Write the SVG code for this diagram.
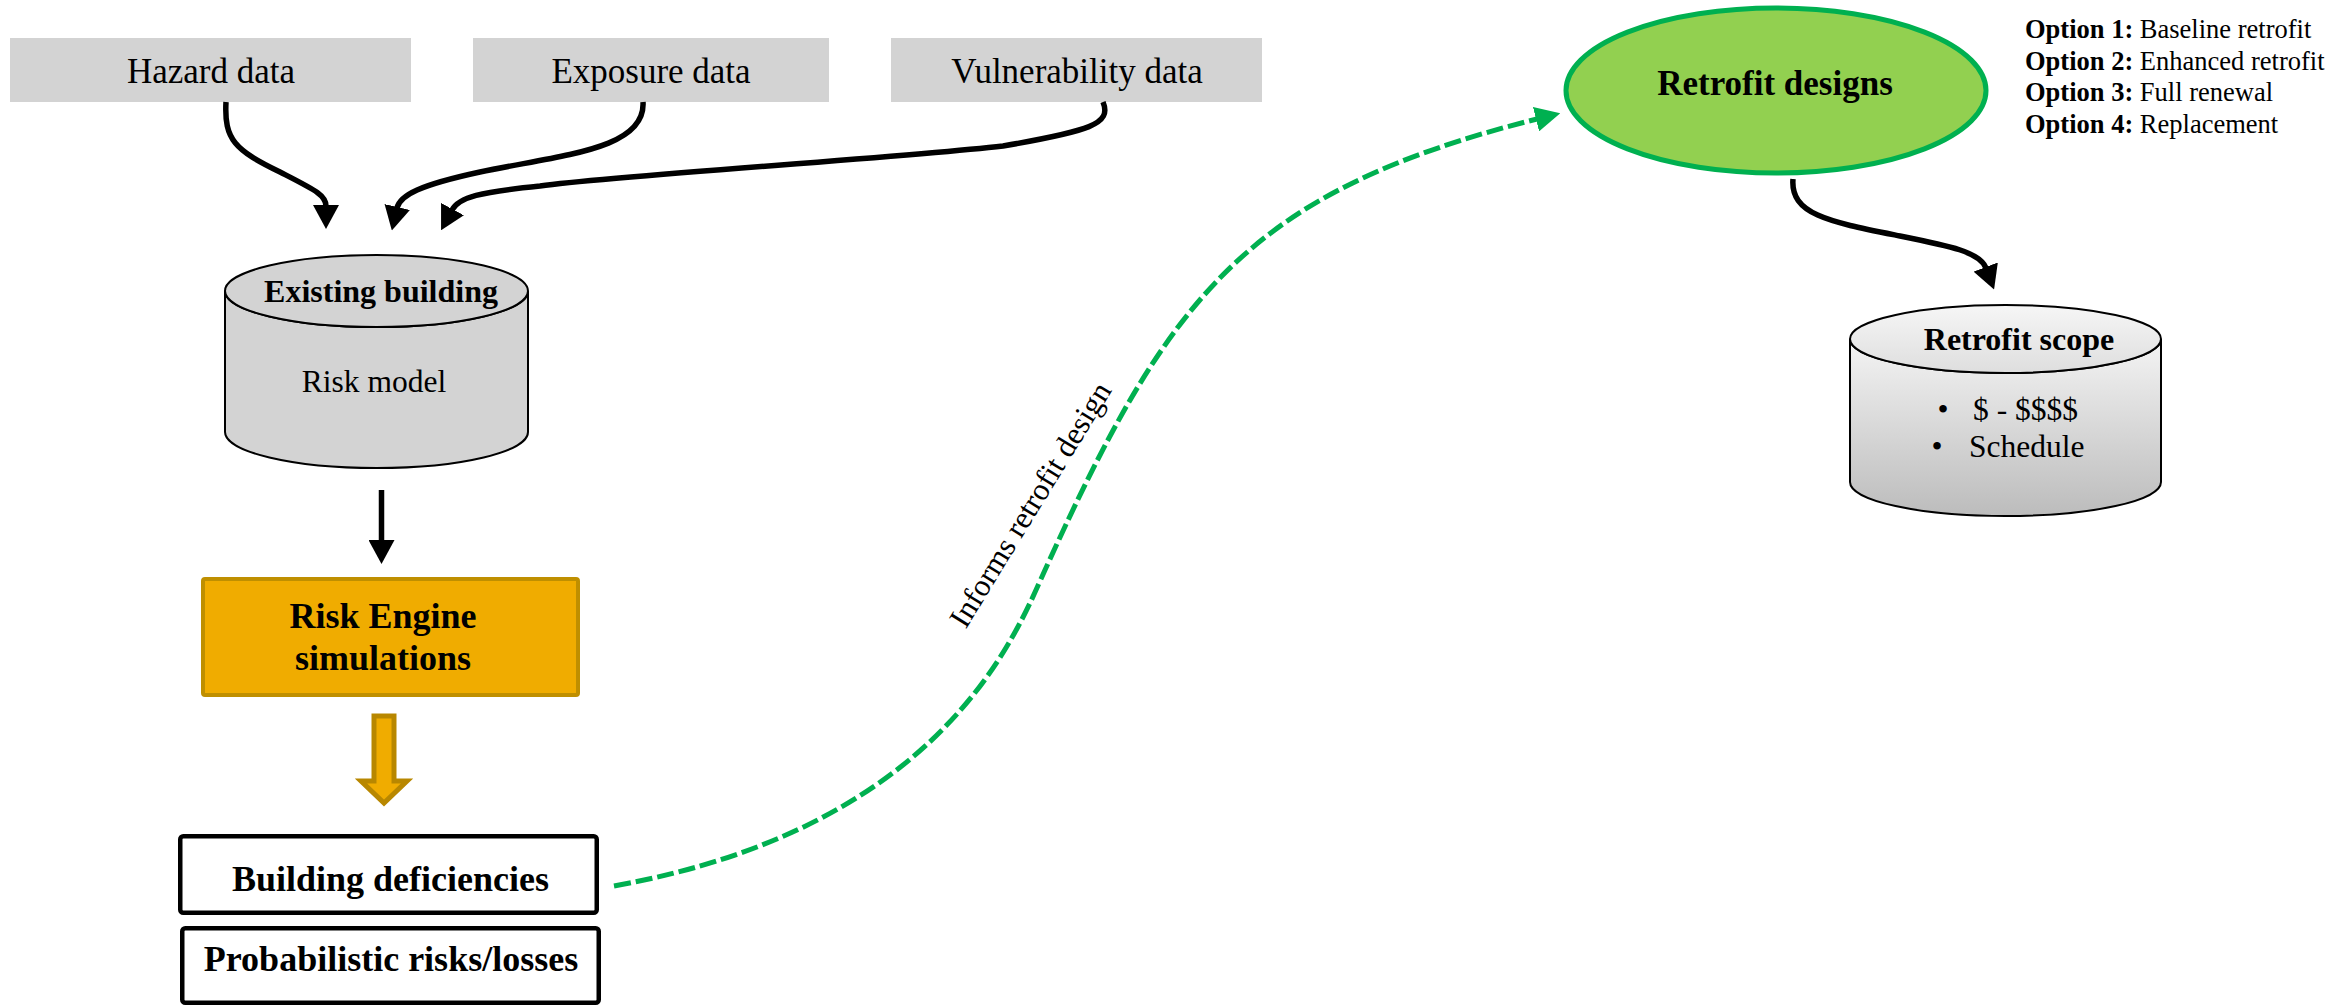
<svg xmlns="http://www.w3.org/2000/svg" width="2331" height="1005" viewBox="0 0 2331 1005">
  <style>
    .serif { font-family: "Liberation Serif", "Times New Roman", serif; fill: #000; }
    .b { font-weight: bold; }
    .src-box { fill: #d3d3d3; stroke: none; }
    .src-txt { font-size: 35px; }
    .flow { fill: none; stroke: #000; stroke-width: 5.5; stroke-linecap: butt; }
    .dash { fill: none; stroke: #00b050; stroke-width: 5; stroke-dasharray: 17 5; }
    .cyl { stroke: #000; stroke-width: 2; }
    .outbox { fill: #fff; stroke: #000; stroke-width: 4.5; }
  </style>
  <defs>
    <marker id="headBlack" viewBox="0 0 24 26" refX="1" refY="13" markerWidth="24" markerHeight="26" markerUnits="userSpaceOnUse" orient="auto">
      <path d="M0,0 L24,13 L0,26 Z" fill="#000"/>
    </marker>
    <marker id="headGreen" viewBox="0 0 25 25" refX="1" refY="12.5" markerWidth="25" markerHeight="25" markerUnits="userSpaceOnUse" orient="auto">
      <path d="M0,0 L25,12.5 L0,25 Z" fill="#00b050"/>
    </marker>
    <linearGradient id="scopeBody" x1="0" y1="0" x2="0" y2="1">
      <stop offset="0" stop-color="#f4f4f4"/>
      <stop offset="1" stop-color="#bcbcbc"/>
    </linearGradient>
    <linearGradient id="scopeTop" x1="0" y1="0" x2="0" y2="1">
      <stop offset="0" stop-color="#f6f6f6"/>
      <stop offset="1" stop-color="#dedede"/>
    </linearGradient>
  </defs>

  <!-- input data sources -->
  <g id="hazard">
    <rect class="src-box" x="10" y="38" width="401" height="64"/>
    <text class="serif src-txt" x="211" y="83" text-anchor="middle">Hazard data</text>
  </g>
  <g id="exposure">
    <rect class="src-box" x="473" y="38" width="356" height="64"/>
    <text class="serif src-txt" x="651" y="83" text-anchor="middle">Exposure data</text>
  </g>
  <g id="vulnerability">
    <rect class="src-box" x="891" y="38" width="371" height="64"/>
    <text class="serif src-txt" x="1077" y="83" text-anchor="middle">Vulnerability data</text>
  </g>

  <!-- existing building risk model (cylinder) -->
  <g id="existing-building">
    <path class="cyl" fill="#d3d3d3" d="M225,291 V432 A151.5,36 0 0 0 528,432 V291 A151.5,36 0 0 1 225,291 Z"/>
    <ellipse class="cyl" fill="#d3d3d3" cx="376.5" cy="291" rx="151.5" ry="36"/>
    <text class="serif b" x="381" y="302" font-size="32" text-anchor="middle">Existing building</text>
    <text class="serif" x="374" y="392" font-size="31.5" text-anchor="middle">Risk model</text>
  </g>

  <!-- risk engine -->
  <g id="risk-engine">
    <rect x="203" y="579" width="375" height="116" fill="#f0ac00" stroke="#bf8f00" stroke-width="4" rx="2"/>
    <text class="serif b" x="383" y="628" font-size="36" text-anchor="middle">Risk Engine</text>
    <text class="serif b" x="383" y="670" font-size="36" text-anchor="middle">simulations</text>
  </g>

  <!-- block arrow from engine to outputs -->
  <g id="engine-output-arrow">
    <polygon points="374,716 394,716 394,781 407,781 384,803 361,781 374,781" fill="#f0ac00" stroke="#b88700" stroke-width="5" stroke-linejoin="miter"/>
  </g>

  <!-- outputs -->
  <g id="building-deficiencies">
    <rect class="outbox" x="180.25" y="836.25" width="416.5" height="76.5" rx="3"/>
    <text class="serif b" x="390.5" y="891" font-size="36" text-anchor="middle">Building deficiencies</text>
  </g>
  <g id="probabilistic-risks">
    <rect class="outbox" x="182.25" y="928.25" width="416.5" height="74.5" rx="3"/>
    <text class="serif b" x="391" y="971" font-size="36" text-anchor="middle">Probabilistic risks/losses</text>
  </g>

  <!-- retrofit designs -->
  <g id="retrofit-designs">
    <ellipse cx="1776" cy="90.5" rx="210" ry="82.5" fill="#92d050" stroke="#00b050" stroke-width="5"/>
    <text class="serif b" x="1775" y="95" font-size="35" text-anchor="middle">Retrofit designs</text>
  </g>

  <!-- retrofit options list -->
  <g id="retrofit-options" class="serif" font-size="26.5">
    <text x="2025" y="38"><tspan class="b">Option 1:</tspan> Baseline retrofit</text>
    <text x="2025" y="69.5"><tspan class="b">Option 2:</tspan> Enhanced retrofit</text>
    <text x="2025" y="101"><tspan class="b">Option 3:</tspan> Full renewal</text>
    <text x="2025" y="132.5"><tspan class="b">Option 4:</tspan> Replacement</text>
  </g>

  <!-- retrofit scope (cylinder) -->
  <g id="retrofit-scope">
    <path class="cyl" fill="url(#scopeBody)" d="M1850,339 V482 A155.5,34 0 0 0 2161,482 V339 A155.5,34 0 0 1 1850,339 Z"/>
    <ellipse class="cyl" fill="url(#scopeTop)" cx="2005.5" cy="339" rx="155.5" ry="34"/>
    <text class="serif b" x="2019" y="350" font-size="32" text-anchor="middle">Retrofit scope</text>
    <text class="serif" x="1943" y="420" font-size="31.5" text-anchor="middle">•</text>
    <text class="serif" x="1973" y="420" font-size="31.5">$ - $$$$</text>
    <text class="serif" x="1937" y="457" font-size="31.5" text-anchor="middle">•</text>
    <text class="serif" x="1969" y="457" font-size="31.5">Schedule</text>
  </g>

  <!-- connectors -->
  <g id="connectors">
    <path class="flow" marker-end="url(#headBlack)" d="M226,102 C224,140 235,150 280,172 C315,190 326,195 326,206"/>
    <path class="flow" marker-end="url(#headBlack)" d="M643,102 C646,150 560,155 480,172 C420,185 400,195 397,208"/>
    <path class="flow" marker-end="url(#headBlack)" d="M1103,102 C1112,124 1090,131 1003,146 C900,158 620,175 540,186 C480,192 459,197 452,210"/>
    <path class="flow" stroke-width="5" marker-end="url(#headBlack)" d="M381.5,490 V541"/>
    <path class="flow" marker-end="url(#headBlack)" d="M1793,179 C1790,215 1830,222 1900,236 C1950,246 1980,252 1986,268"/>
    <path class="dash" marker-end="url(#headGreen)" d="M614,886 C944,826.6 1016,633.7 1045,570 C1169,297 1246,192 1537,119"/>
    <text class="serif" font-size="31" text-anchor="middle" transform="translate(1039,510) rotate(-58.5)">Informs retrofit design</text>
  </g>
</svg>
